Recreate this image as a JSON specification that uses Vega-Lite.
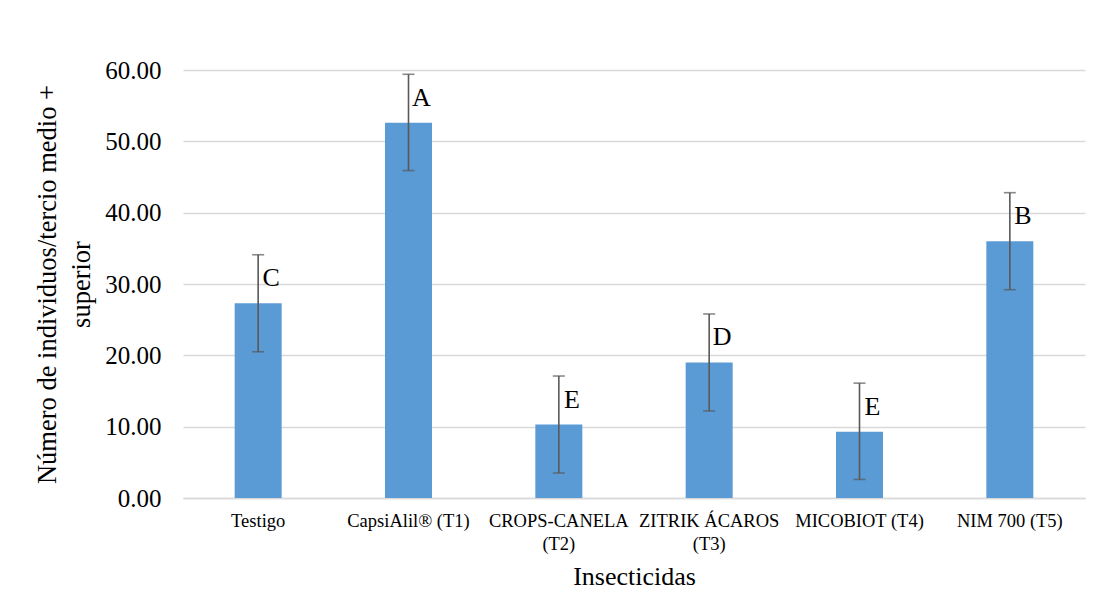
{
  "$schema": "https://vega.github.io/schema/vega-lite/v6.json",
  "width": 902,
  "height": 428,
  "autosize": "none",
  "padding": {"left": 183, "top": 70, "right": 9, "bottom": 96},
  "background": "white",
  "config": {
    "view": {"stroke": null},
    "font": "Liberation Serif"
  },
  "data": {
    "values": [
      {"insecticida": "Testigo", "valor": 27.3, "lo": 20.5, "hi": 34.1, "letra": "C"},
      {"insecticida": "CapsiAlil® (T1)", "valor": 52.6, "lo": 45.9, "hi": 59.4, "letra": "A"},
      {"insecticida": "CROPS-CANELA (T2)", "valor": 10.3, "lo": 3.5, "hi": 17.1, "letra": "E"},
      {"insecticida": "ZITRIK ÁCAROS (T3)", "valor": 19.0, "lo": 12.2, "hi": 25.8, "letra": "D"},
      {"insecticida": "MICOBIOT (T4)", "valor": 9.3, "lo": 2.6, "hi": 16.1, "letra": "E"},
      {"insecticida": "NIM 700 (T5)", "valor": 36.0, "lo": 29.2, "hi": 42.8, "letra": "B"}
    ]
  },
  "encoding": {
    "x": {
      "field": "insecticida",
      "type": "nominal",
      "sort": null,
      "scale": {"paddingInner": 0, "paddingOuter": 0},
      "axis": {
        "title": "Insecticidas",
        "titleFont": "Liberation Serif",
        "titleFontSize": 26,
        "titleFontWeight": "normal",
        "titleColor": "#000000",
        "titlePadding": 11,
        "labelAngle": 0,
        "labelFont": "Liberation Serif",
        "labelFontSize": 18.5,
        "labelColor": "#000000",
        "labelPadding": 13,
        "labelLineHeight": 23,
        "labelBaseline": "top",
        "labelLimit": 200,
        "labelExpr": "datum.label == 'CROPS-CANELA (T2)' ? ['CROPS-CANELA', '(T2)'] : datum.label == 'ZITRIK ÁCAROS (T3)' ? ['ZITRIK ÁCAROS', '(T3)'] : datum.label",
        "ticks": false,
        "domainColor": "#d9d9d9",
        "domainWidth": 1.5,
        "grid": false
      }
    }
  },
  "layer": [
    {
      "mark": {"type": "bar", "color": "#5b9bd5", "size": 47},
      "encoding": {
        "y": {
          "field": "valor",
          "type": "quantitative",
          "scale": {"domain": [0, 60], "nice": false},
          "axis": {
            "title": ["Número de individuos/tercio medio +", "superior"],
            "titleFont": "Liberation Serif",
            "titleFontSize": 26.5,
            "titleFontWeight": "normal",
            "titleColor": "#000000",
            "titleLineHeight": 34,
            "titlePadding": 9,
            "values": [0, 10, 20, 30, 40, 50, 60],
            "format": ".2f",
            "labelFont": "Liberation Serif",
            "labelFontSize": 25,
            "labelColor": "#000000",
            "labelPadding": 22,
            "ticks": false,
            "domain": false,
            "gridColor": "#d9d9d9",
            "gridWidth": 1.5
          }
        }
      }
    },
    {
      "mark": {"type": "rule", "color": "#595959", "strokeWidth": 1.6},
      "encoding": {
        "y": {"field": "lo", "type": "quantitative"},
        "y2": {"field": "hi"}
      }
    },
    {
      "mark": {"type": "tick", "color": "#595959", "thickness": 1.6, "size": 12},
      "encoding": {"y": {"field": "hi", "type": "quantitative"}}
    },
    {
      "mark": {"type": "tick", "color": "#595959", "thickness": 1.6, "size": 12},
      "encoding": {"y": {"field": "lo", "type": "quantitative"}}
    },
    {
      "mark": {"type": "text", "font": "Liberation Serif", "fontSize": 26, "color": "#000000", "dx": 13, "dy": -25, "align": "center", "baseline": "middle"},
      "encoding": {
        "y": {"field": "valor", "type": "quantitative"},
        "text": {"field": "letra"}
      }
    }
  ]
}
